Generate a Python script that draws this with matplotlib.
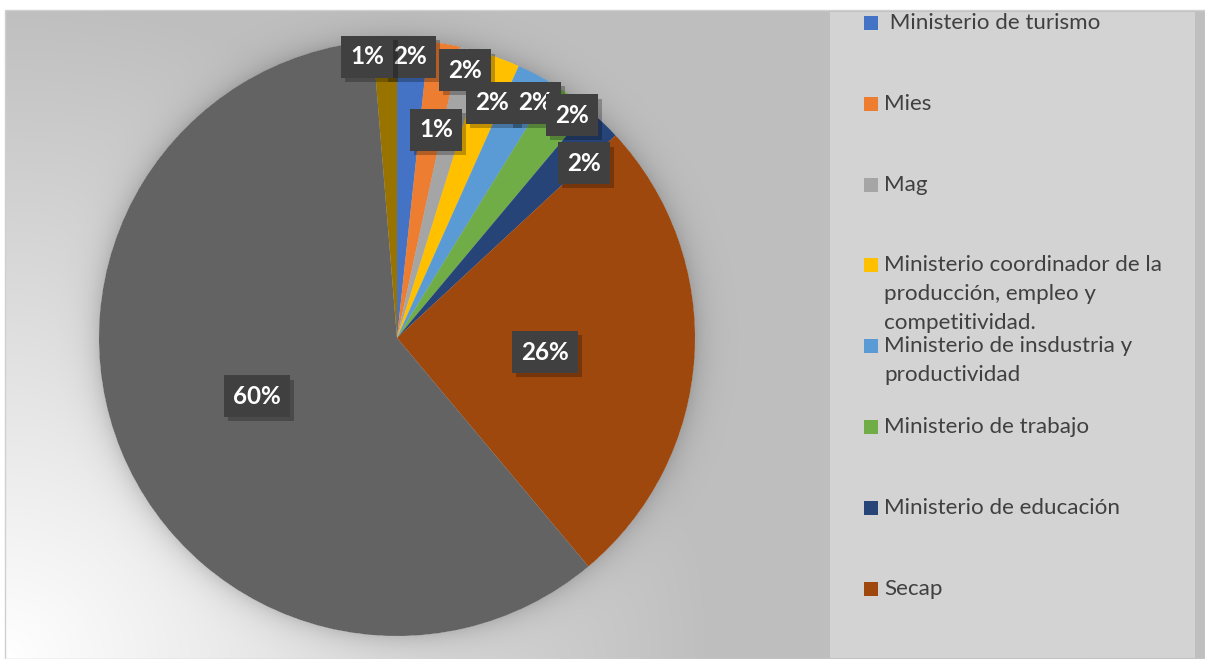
import numpy as np
import matplotlib
matplotlib.use("Agg")
import matplotlib.pyplot as plt
import matplotlib.patheffects as pe
from matplotlib.patches import Rectangle

# ---------------- data ----------------
categories = [" Ministerio de turismo", "Mies", "Mag",
              "Ministerio coordinador de la\nproducción, empleo y\ncompetitividad.",
              "Ministerio de insdustria y\nproductividad",
              "Ministerio de trabajo", "Ministerio de educación", "Secap",
              "Otros", "Otros (2)"]
values = [1.7, 1.7, 1.4, 1.9, 2.1, 2.3, 2.0, 25.8, 59.8, 1.3]
legend_count = 8   # only the first 8 entries fit in the legend box

# ---------------- style ----------------
colors = ["#4472C4", "#ED7D31", "#A5A5A5", "#FFC000", "#5B9BD5",
          "#70AD47", "#264478", "#9E480E", "#636363", "#997300"]
# manual data-label positions (in pie-radius units, like dragged Excel labels)
label_pos = [(0.044, 0.943), (0.228, 0.899), (0.131, 0.698), (0.319, 0.789),
             (0.463, 0.789), (0.587, 0.748), (0.628, 0.587), (0.497, -0.047),
             (-0.470, -0.195), (-0.100, 0.943)]

W, H = 1205, 659
CX, CY, R = 397, 338, 298
FONT = "Lato"

fig = plt.figure(figsize=(W / 100, H / 100), dpi=100)
fig.patch.set_facecolor("white")

# background axes in pixel coordinates
bg = fig.add_axes([0, 0, 1, 1])
bg.set_xlim(0, W)
bg.set_ylim(H, 0)
bg.axis("off")

x0, x1, y0, y1 = 5, W, 10, H
xx, yy = np.meshgrid(np.arange(x0, x1) + 0.5, np.arange(y0, y1) + 0.5)
d = np.sqrt(((xx - x0) / 700.0) ** 2 + ((y1 - yy) / 650.0) ** 2)
g = 191 + 64 * (1 - np.clip(d, 0, 1))
r = np.sqrt((xx - CX) ** 2 + (yy - CY) ** 2)
shadow = np.where(r > R, 1 - 0.15 * np.exp(-(r - R) / 13.0), 1.0)
g = g * shadow
img = np.clip(g / 255.0, 0, 1)
bg.imshow(np.dstack([img, img, img]), extent=(x0, x1, y1, y0),
          aspect="auto", interpolation="bilinear", zorder=0)
bg.add_patch(Rectangle((x0, y0), x1 - x0, y1 - y0, fill=False,
                       ec="#d0d0d0", lw=1, zorder=1))

# legend panel
bg.add_patch(Rectangle((830, 12), 365, 646, fc="#d3d3d3", ec="none", zorder=2))
row0, row_step, line_step = 23, 80.8, 29
for i in range(legend_count):
    yc = row0 + i * row_step
    bg.add_patch(Rectangle((864, yc - 7), 14, 14, fc=colors[i], ec="none", zorder=3))
    for j, line in enumerate(categories[i].split("\n")):
        bg.text(884, yc + j * line_step, line, fontsize=16.1, family=FONT,
                color="#404040", va="center", ha="left", zorder=3)

# pie axes
ax = fig.add_axes([(CX - R) / W, (H - CY - R) / H, 2 * R / W, 2 * R / H])
ax.pie(values, colors=colors, startangle=90, counterclock=False, radius=1,
       wedgeprops=dict(linewidth=0))
ax.set_xlim(-1, 1)
ax.set_ylim(-1, 1)
ax.set_aspect("auto")
ax.axis("off")

total = sum(values)
for v, (lx, ly) in zip(values, label_pos):
    txt = f"{100 * v / total:.0f}%"
    ax.text(lx, ly, txt, fontsize=17.5, family=FONT, weight="bold", color="white",
            ha="center", va="center",
            bbox=dict(boxstyle="square,pad=0.38", fc="#404040", ec="none",
                      path_effects=[pe.withSimplePatchShadow(offset=(3, -3),
                                                             shadow_rgbFace="black",
                                                             alpha=0.25)]),
            zorder=5, clip_on=False)

fig.savefig("out.png", dpi=100, facecolor="white")
